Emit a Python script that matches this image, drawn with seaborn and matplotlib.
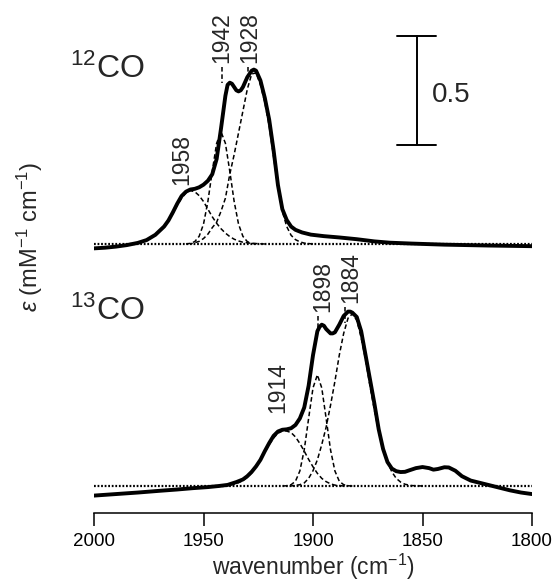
import numpy as np
import matplotlib
matplotlib.use('Agg')
import matplotlib.pyplot as plt
import seaborn as sns

# 12CO spectrum (wavenumber, epsilon in mM-1 cm-1)
wn_12co = [2000, 1995, 1990, 1985, 1980, 1976, 1972, 1968, 1966, 1964, 1962, 1960,
           1958, 1956, 1954, 1952, 1950, 1948, 1946, 1944, 1942, 1940, 1939, 1938,
           1937, 1936, 1935, 1934, 1933, 1932, 1930, 1928, 1927, 1926, 1924, 1922,
           1920, 1918, 1916, 1914, 1912, 1910, 1908, 1905, 1901, 1895, 1888, 1880,
           1872, 1865, 1855, 1840, 1820, 1800]
eps_12co = [-0.02, -0.017, -0.012, -0.005, 0.005, 0.018, 0.042, 0.08, 0.108, 0.145,
            0.185, 0.22, 0.24, 0.25, 0.253, 0.26, 0.272, 0.29, 0.32, 0.39, 0.53,
            0.68, 0.73, 0.74, 0.735, 0.72, 0.705, 0.70, 0.705, 0.72, 0.765, 0.795,
            0.80, 0.795, 0.75, 0.67, 0.57, 0.43, 0.27, 0.16, 0.11, 0.08, 0.065,
            0.053, 0.043, 0.036, 0.03, 0.022, 0.012, 0.006, 0.002, -0.003, -0.007,
            -0.01]

# 12CO fitted components
wn_c1958 = [1984, 1980, 1976, 1972, 1968, 1966, 1964, 1962, 1960, 1958, 1956, 1954,
            1952, 1950, 1948, 1946, 1944, 1942, 1940, 1938, 1936, 1934, 1932, 1928, 1922]
eps_c1958 = [0.0, 0.004, 0.017, 0.042, 0.08, 0.105, 0.14, 0.178, 0.21, 0.235, 0.245,
             0.24, 0.222, 0.195, 0.16, 0.125, 0.095, 0.07, 0.05, 0.034, 0.022, 0.014,
             0.008, 0.003, 0.0]
wn_c1942 = [1958, 1956, 1954, 1952, 1950, 1948, 1946, 1944, 1942, 1940, 1938, 1936,
            1934, 1932, 1930, 1928, 1926]
eps_c1942 = [0.0, 0.003, 0.011, 0.035, 0.091, 0.195, 0.334, 0.462, 0.515, 0.462,
             0.334, 0.195, 0.091, 0.035, 0.011, 0.003, 0.0]
wn_c1928 = [1956, 1952, 1950, 1948, 1946, 1944, 1942, 1940, 1938, 1936, 1934, 1932,
            1930, 1928, 1926, 1924, 1922, 1920, 1918, 1916, 1914, 1912, 1910, 1908,
            1906, 1904, 1900]
eps_c1928 = [0.0, 0.012, 0.025, 0.045, 0.075, 0.10, 0.15, 0.21, 0.32, 0.41, 0.51,
             0.61, 0.71, 0.78, 0.785, 0.73, 0.65, 0.54, 0.40, 0.26, 0.15, 0.08, 0.04,
             0.02, 0.01, 0.004, 0.0]

# 13CO spectrum
wn_13co = [2000, 1990, 1980, 1970, 1962, 1955, 1948, 1943, 1939, 1935, 1932, 1930,
           1928, 1926, 1924, 1922, 1920, 1918, 1916, 1914, 1912, 1910, 1908, 1906,
           1904, 1902, 1900, 1898, 1897, 1896, 1895, 1894, 1892, 1891, 1890, 1888,
           1886, 1884, 1883, 1882, 1880, 1878, 1876, 1874, 1872, 1870, 1868, 1866,
           1864, 1862, 1860, 1858, 1856, 1853, 1850, 1847, 1845, 1843, 1840, 1838,
           1835, 1832, 1828, 1824, 1820, 1816, 1810, 1805, 1800]
eps_13co = [-0.044, -0.037, -0.03, -0.022, -0.016, -0.01, -0.005, 0.0, 0.005, 0.018,
            0.03, 0.045, 0.065, 0.09, 0.12, 0.16, 0.197, 0.23, 0.25, 0.258, 0.26,
            0.265, 0.28, 0.31, 0.36, 0.46, 0.60, 0.71, 0.73, 0.74, 0.735, 0.72, 0.70,
            0.70, 0.705, 0.74, 0.78, 0.80, 0.80, 0.795, 0.775, 0.71, 0.60, 0.49, 0.38,
            0.26, 0.17, 0.11, 0.08, 0.068, 0.064, 0.065, 0.072, 0.082, 0.087, 0.082,
            0.075, 0.078, 0.086, 0.085, 0.07, 0.045, 0.025, 0.015, 0.005, -0.005,
            -0.02, -0.03, -0.037]

# 13CO fitted components
wn_c1914 = [1940, 1936, 1934, 1932, 1930, 1928, 1926, 1924, 1922, 1920, 1918, 1916,
            1914, 1912, 1910, 1908, 1906, 1904, 1902, 1900, 1898, 1896, 1894, 1892,
            1890, 1886]
eps_c1914 = [0.0, 0.008, 0.015, 0.025, 0.04, 0.06, 0.088, 0.12, 0.155, 0.19, 0.22,
             0.242, 0.252, 0.252, 0.245, 0.225, 0.195, 0.16, 0.122, 0.088, 0.058,
             0.035, 0.02, 0.01, 0.004, 0.0]
wn_c1898 = [1914, 1912, 1910, 1908, 1906, 1904, 1902, 1900, 1898, 1896, 1894, 1892,
            1890, 1888, 1886, 1884, 1882]
eps_c1898 = [0.0, 0.001, 0.006, 0.022, 0.069, 0.166, 0.31, 0.45, 0.51, 0.45, 0.31,
             0.166, 0.069, 0.022, 0.006, 0.001, 0.0]
wn_c1884 = [1910, 1906, 1904, 1902, 1900, 1898, 1896, 1894, 1892, 1890, 1888, 1886,
            1884, 1882, 1880, 1878, 1876, 1874, 1872, 1870, 1868, 1866, 1864, 1862,
            1860, 1858, 1855, 1850]
eps_c1884 = [0.0, 0.006, 0.014, 0.035, 0.07, 0.12, 0.19, 0.27, 0.37, 0.48, 0.60,
             0.70, 0.77, 0.79, 0.76, 0.68, 0.58, 0.46, 0.35, 0.25, 0.17, 0.11, 0.065,
             0.035, 0.018, 0.008, 0.002, 0.0]

x_ticks = [2000, 1950, 1900, 1850, 1800]
peak_labels_12 = ['1958', '1942', '1928']
peak_labels_13 = ['1914', '1898', '1884']

sns.set_style('white')
plt.rcParams['font.family'] = ['Liberation Sans', 'DejaVu Sans']
plt.rcParams['mathtext.fontset'] = 'custom'
plt.rcParams['mathtext.rm'] = 'Liberation Sans'
plt.rcParams['mathtext.it'] = 'Liberation Sans:italic'

PX = 218.0          # pixels per epsilon unit
TOP = (486 - 244) / PX   # vertical offset of the 12CO trace

fig = plt.figure(figsize=(5.53, 5.82), dpi=100)
ax = fig.add_axes([94 / 553, 69 / 582, 438 / 553, 513 / 582])

thick = dict(color='black', linewidth=2.8)
dash = dict(color='black', linewidth=1.1, linestyle=(0, (3, 1.8)))

# dotted baselines
for off in (0, TOP):
    ax.plot([2000, 1800], [off, off], color='black', linewidth=1.6,
            linestyle=(0, (0.8, 0.8)))

for wn, ep in [(wn_c1958, eps_c1958), (wn_c1942, eps_c1942), (wn_c1928, eps_c1928)]:
    sns.lineplot(x=wn, y=np.array(ep) + TOP, ax=ax, **dash)
for wn, ep in [(wn_c1914, eps_c1914), (wn_c1898, eps_c1898), (wn_c1884, eps_c1884)]:
    sns.lineplot(x=wn, y=np.array(ep), ax=ax, **dash)

sns.lineplot(x=wn_12co, y=np.array(eps_12co) + TOP, ax=ax, **thick)
sns.lineplot(x=wn_13co, y=np.array(eps_13co), ax=ax, **thick)

# peak labels
lab_fs = 16.5
lab12 = [(1959.8, 0.27), (1941.6, 0.83), (1928.8, 0.83)]
for t, (x, y) in zip(peak_labels_12, lab12):
    ax.text(x, y + TOP, t, rotation=90, ha='center', va='bottom', fontsize=lab_fs)
lab13 = [(1916, 0.335), (1895.4, 0.798), (1882.6, 0.839)]
for t, (x, y) in zip(peak_labels_13, lab13):
    ax.text(x, y, t, rotation=90, ha='center', va='bottom', fontsize=lab_fs)

# leader lines
ax.plot([1941.7, 1941.7], [TOP + 0.81, TOP + 0.74], **dash)
ax.plot([1929.5, 1929.5], [TOP + 0.81, TOP + 0.77], **dash)
ax.plot([1897.5, 1897.5], [0.78, 0.72], **dash)
ax.plot([1885.5, 1885.5], [0.82, 0.75], **dash)

# isotope labels
ax.text(2011, TOP + 0.76, r'$\mathregular{^{12}}$CO', fontsize=23, ha='left',
        va='baseline', clip_on=False)
ax.text(2011, 0.76, r'$\mathregular{^{13}}$CO', fontsize=23, ha='left',
        va='baseline', clip_on=False)

# scale bar 0.5
sb_x, sb_y = 1852.5, 1.564
ax.plot([sb_x, sb_x], [sb_y, sb_y + 0.5], color='black', linewidth=1.4)
ax.plot([sb_x + 9, sb_x - 8.5], [sb_y, sb_y], color='black', linewidth=1.4)
ax.plot([sb_x + 9, sb_x - 8.5], [sb_y + 0.5, sb_y + 0.5], color='black', linewidth=1.4)
ax.text(1845.7, 1.761, '0.5', fontsize=20, ha='left', va='baseline')

ax.set_xlim(2000, 1800)
ax.set_ylim(-27 / PX, 486 / PX)
ax.set_xticks(x_ticks)
ax.set_xticklabels([str(t) for t in x_ticks])
ax.set_yticks([])
for s in ('left', 'top', 'right'):
    ax.spines[s].set_visible(False)
ax.spines['bottom'].set_linewidth(1.1)
ax.spines['bottom'].set_color('black')
ax.tick_params(axis='x', direction='out', length=9.4, width=1.1, pad=5,
               labelsize=13.5, colors='black', bottom=True)
ax.set_xlabel('wavenumber (cm$\\mathregular{^{-1}}$)', fontsize=16.5, labelpad=1)
ax.set_ylabel('')

fig.text(30 / 553, 1 - 237 / 582,
         '$\\it{\\varepsilon}$ (mM$\\mathregular{^{-1}}$ cm$\\mathregular{^{-1}}$)',
         rotation=90, ha='center', va='center', fontsize=17)

fig.savefig('out.png', dpi=100)
